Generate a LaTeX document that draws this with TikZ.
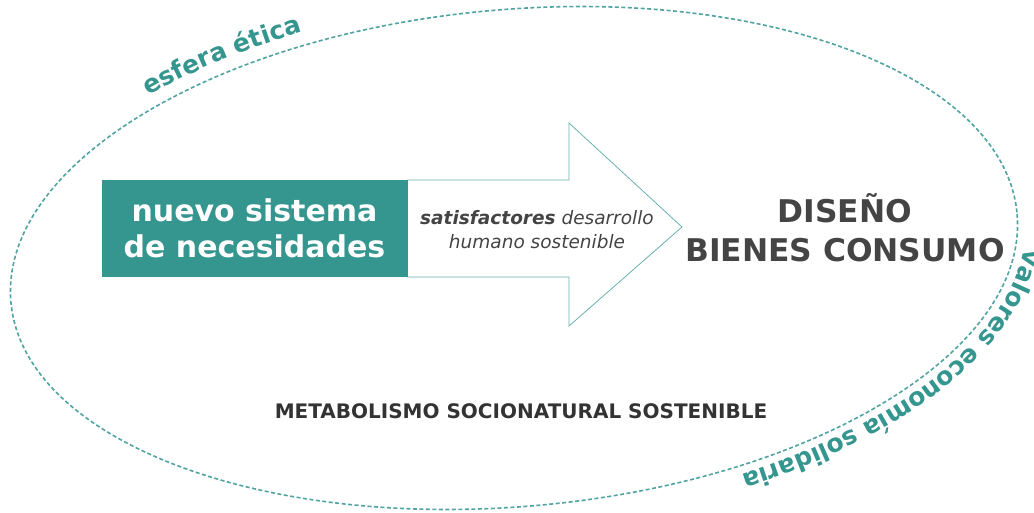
\documentclass[tikz,border=0pt]{standalone}
\usepackage{fontspec}
\setmainfont{DejaVu Sans}
\usepackage{xcolor}
\usetikzlibrary{
  decorations.text
}
\definecolor{verdeazul}{HTML}{35958F}
\definecolor{trazo}{HTML}{4FA3A1}
\definecolor{grisoscuro}{HTML}{444444}
\definecolor{grisnegro}{HTML}{333333}
\newcommand{\etiqueta}{\bfseries\fontsize{25}{25}\selectfont}

\begin{document}
\begin{tikzpicture}[x=1pt, y=-1pt,
    caja/.style = {rectangle, fill=verdeazul, draw=verdeazul,
      minimum width=305pt, minimum height=96pt, inner sep=0pt,
      text=white, align=center,
      font=\bfseries\fontsize{30}{36}\selectfont},
    flecha/.style = {draw=trazo!85, line width=0.8pt, line join=miter},
    esfera/.style = {draw=trazo, line width=1.6pt,
      dash pattern=on 4pt off 2.5pt},
    rotulo/.style = {align=center, text=grisoscuro},
    anillo/.style = {decorate, decoration={text along path,
      text align=center, text color=verdeazul}}]
  \useasboundingbox (0,0) rectangle (1034,512);
  % esfera etica
  \coordinate (centro) at (514,258);
  \draw[esfera, rotate around={5:(centro)}] (centro)
    ellipse [x radius=505, y radius=248.5];
  \path[anillo, rotate around={5:(centro)},
    decoration={text={|\etiqueta|esfera ética}}]
    (centro) ++(218:518 and 262)
    arc [start angle=218, end angle=256, x radius=518, y radius=262];
  \path[anillo, rotate around={5:(centro)},
    decoration={text={|\etiqueta|valores economía solidaria}}]
    (centro) ++(-5:514 and 257)
    arc [start angle=-5, end angle=73, x radius=514, y radius=257];
  % flecha
  \coordinate (cola) at (407,180);
  \coordinate (hombro1) at (569,180);
  \coordinate (punta1) at (569,123);
  \coordinate (punta) at (682,227);
  \coordinate (punta2) at (569,326);
  \coordinate (hombro2) at (569,277);
  \coordinate (cola2) at (407,277);
  \draw[flecha] (cola) -- (hombro1) -- (punta1) -- (punta)
    -- (punta2) -- (hombro2) -- (cola2);
  \node[caja] (necesidades) at (254.5,228.5)
    {nuevo sistema\\de necesidades};
  \node[rotulo, font=\itshape\fontsize{18.5}{24}\selectfont]
    (satisfactores) at (537,230)
    {\textbf{satisfactores} desarrollo\\humano sostenible};
  % textos
  \node[rotulo, font=\bfseries\fontsize{31.3}{39}\selectfont]
    (diseno) at (845,228) {DISEÑO\\BIENES CONSUMO};
  \node[rotulo, text=grisnegro, font=\bfseries\fontsize{20}{22}\selectfont]
    (metabolismo) at (521,411) {METABOLISMO SOCIONATURAL SOSTENIBLE};
\end{tikzpicture}
\end{document}
